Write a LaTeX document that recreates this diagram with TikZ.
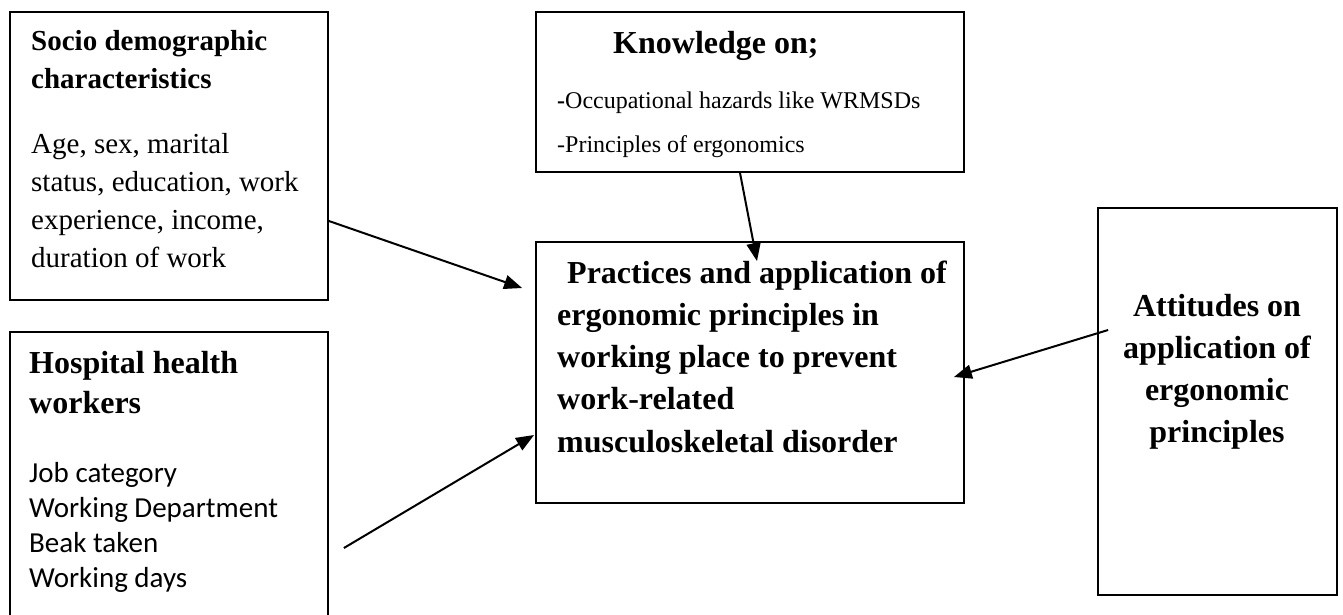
\documentclass[tikz,border=0pt]{standalone}
\usepackage{fontspec}
\setmainfont{Liberation Serif}
\newfontfamily\calibri{Carlito}
\usetikzlibrary{arrows.meta,calc}
\begin{document}
\begin{tikzpicture}[x=1pt,y=-1pt,
  box/.style={draw,line width=1.8pt,inner sep=0pt,rectangle},
  txt/.style={inner sep=0pt,anchor=base west,align=left},
  arr/.style={line width=2pt,-{Triangle[length=18pt,width=14pt]}}]
\clip (0,0) rectangle (1343,614);
\fill[white] (0,0) rectangle (1343,614);
% boxes
\node[box,minimum width=318pt,minimum height=288pt] (socio) at (169,156) {};
\node[box,minimum width=318pt,minimum height=308pt] (hosp) at (169,486) {};
\node[box,minimum width=428pt,minimum height=160pt] (know) at (750,92) {};
\node[box,minimum width=428pt,minimum height=261pt] (prac) at (750,372.5) {};
\node[box,minimum width=239pt,minimum height=387pt] (att) at (1217.5,401.5) {};
% texts (anchored at the baseline of the last line)
\node[txt,font=\fontsize{29}{38}\selectfont\bfseries] (socioH) at (31,88) {Socio demographic\\characteristics};
\node[txt,font=\fontsize{29}{38}\selectfont] (socioB) at (31,267) {Age, sex, marital\\status, education, work\\experience, income,\\duration of work};
\node[txt,font=\fontsize{32}{40}\selectfont\bfseries] (knowH) at (613,53) {Knowledge on;};
\node[txt,font=\fontsize{24}{44}\selectfont] (knowB) at (557,152) {\textbf{-}Occupational hazards like WRMSDs\\-Principles of ergonomics};
\node[txt,font=\fontsize{32}{42.25}\selectfont\bfseries] (pracT) at (557,452) {\hspace*{10pt}Practices and application of\\ergonomic principles in\\working place to prevent\\work-related\\musculoskeletal disorder};
\node[inner sep=0pt,anchor=base,align=center,font=\fontsize{32}{42}\selectfont\bfseries] (attT) at (1217,442) {Attitudes on\\application of\\ergonomic\\principles};
\node[txt,font=\fontsize{32}{40}\selectfont\bfseries] (hospH) at (29,413) {Hospital health\\workers};
\node[txt,font=\calibri\fontsize{29}{35}\selectfont] (hospB) at (29,587) {Job category\\Working Department\\Beak taken\\Working days};
% arrows
\draw[arr] ($(socio.east)+(0,65)$) -- ($(prac.west)+(-13,-84.5)$);
\draw[arr] ($(hosp.east)+(15,62)$) -- ($(prac.west)+(-1,62.5)$);
\draw[arr] ($(know.south)+(-10,0)$) -- ($(prac.north)+(7,20)$);
\draw[arr] ($(att.west)+(11,-71.5)$) -- ($(prac.east)+(-11,4.5)$);
\end{tikzpicture}
\end{document}
